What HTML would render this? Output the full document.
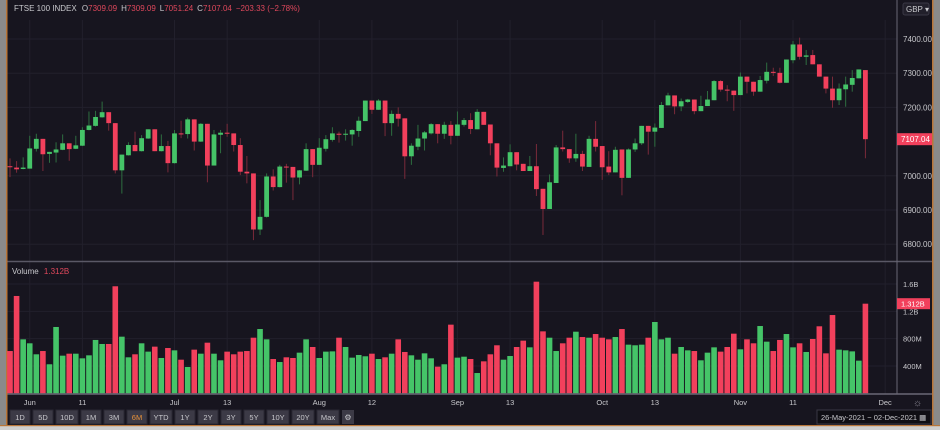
<!DOCTYPE html>
<html><head><meta charset="utf-8"><style>
html,body{margin:0;padding:0;background:#17151f;}
svg{display:block;font-family:"Liberation Sans",sans-serif;}
</style></head><body>
<svg id="chart" width="940" height="430" viewBox="0 0 940 430" xmlns="http://www.w3.org/2000/svg">
<rect x="0" y="0" width="940" height="430" fill="#17151f"/>
<rect x="0" y="0" width="6" height="425" fill="#8a8a8a"/>
<rect x="6" y="0" width="1.5" height="425" fill="#b8763a"/>
<rect x="932" y="0" width="1.5" height="425" fill="#b8763a"/>
<rect x="933.5" y="0" width="6.5" height="425" fill="#8a8a8a"/>
<g id="grid"></g>
<g id="vol"></g>
<g id="candles"></g>
<line x1="7.5" y1="261.5" x2="932" y2="261.5" stroke="#5a5866" stroke-width="1.5"/>
<line x1="7.5" y1="394" x2="932" y2="394" stroke="#6a6876" stroke-width="1.5"/>
<line x1="897" y1="0" x2="897" y2="394" stroke="#6a6876" stroke-width="1"/>
<g id="axes"></g>
<text x="14" y="11" font-size="8" fill="#c8c8cc">FTSE 100 INDEX  <tspan dx="3">O</tspan><tspan fill="#e0485c">7309.09</tspan><tspan dx="4">H</tspan><tspan fill="#e0485c">7309.09</tspan><tspan dx="4">L</tspan><tspan fill="#e0485c">7051.24</tspan><tspan dx="4">C</tspan><tspan fill="#e0485c">7107.04</tspan><tspan dx="4" fill="#e0485c">−203.33 (−2.78%)</tspan></text>
<g><rect x="903" y="3" width="26" height="12" rx="2" fill="#22202b" stroke="#3a3844"/><text x="906" y="12" font-size="8" fill="#c8c8cc">GBP ▾</text></g>
<text x="12" y="274" font-size="8" fill="#c8c8cc">Volume <tspan fill="#e0485c" dx="3">1.312B</tspan></text>
<g id="toolbar"></g>
<g><rect x="817" y="410" width="114" height="14" fill="#0f0e14" stroke="#3a3844"/><text x="821" y="420" font-size="7.5" fill="#c8c8cc">26-May-2021 − 02-Dec-2021 ▦</text></g>
<rect x="0" y="425" width="940" height="5" fill="#cfcfcf"/>
<rect x="0" y="425" width="940" height="1.2" fill="#b8763a"/>
</svg>
<script>
const opens=[7028,7024,7020,7021,7079,7108,7064,7068,7076,7095,7079,7088,7134,7146,7171,7186,7154,7016,7060,7090,7072,7109,7136,7072,7087,7037,7124,7122,7165,7100,7152,7030,7120,7126,7124,7090,7012,7007,6843,6880,6998,6967,7027,7026,6995,7015,7078,7032,7079,7105,7123,7120,7121,7131,7160,7220,7193,7220,7154,7181,7168,7057,7085,7109,7124,7151,7123,7149,7117,7149,7163,7136,7187,7150,7095,7023,7028,7069,7035,7014,7028,6962,6903,6979,7083,7078,7051,7064,7026,7108,7087,7027,7010,7077,6994,7077,7095,7146,7129,7140,7206,7235,7203,7216,7223,7189,7204,7221,7277,7252,7249,7236,7290,7275,7246,7278,7304,7301,7272,7338,7384,7348,7353,7326,7290,7255,7221,7253,7266,7285,7309.09];
const highs=[7051,7043,7054,7117,7123,7108,7070,7098,7121,7095,7117,7142,7188,7190,7217,7186,7154,7062,7098,7129,7119,7136,7136,7121,7102,7134,7161,7170,7165,7154,7152,7134,7134,7152,7124,7110,7058,7007,6929,7007,7019,7032,7035,7026,7017,7095,7078,7110,7119,7142,7129,7136,7136,7173,7220,7220,7224,7220,7191,7200,7168,7095,7149,7131,7154,7151,7158,7160,7188,7169,7183,7195,7187,7150,7095,7054,7092,7069,7035,7058,7093,6962,7004,7090,7132,7078,7123,7073,7117,7160,7087,7072,7085,7077,7080,7109,7146,7146,7153,7216,7243,7235,7226,7225,7223,7234,7248,7280,7280,7265,7249,7302,7290,7275,7292,7331,7316,7316,7340,7394,7404,7368,7368,7326,7290,7290,7270,7290,7309,7311,7309.09];
const lows=[6996,7009,7019,7021,7071,7014,7038,7039,7075,7044,7078,7087,7133,7144,7170,7132,7007,6948,7059,7072,7071,7108,7072,7071,7010,7036,7110,7109,7074,7099,6981,7030,7066,7114,7071,7002,6978,6812,6827,6878,6957,6966,6980,6929,6975,7014,6996,7032,7071,7100,7097,7103,7088,7114,7160,7181,7193,7116,7117,7144,6991,7032,7075,7074,7121,7095,7108,7092,7117,7144,7122,7136,7149,7060,6998,7012,7028,7016,7014,7014,6941,6827,6903,6979,7071,7038,7041,7014,7026,7071,6988,7002,7010,6943,6994,7070,7090,7062,7085,7140,7206,7180,7189,7213,7180,7189,7204,7221,7246,7218,7190,7236,7241,7234,7246,7270,7292,7270,7272,7329,7340,7324,7326,7290,7241,7199,7207,7202,7246,7285,7051.24];
const closes=[7026,7019,7024,7080,7108,7063,7070,7077,7095,7078,7089,7134,7147,7172,7186,7154,7016,7062,7090,7072,7110,7136,7072,7087,7037,7124,7121,7165,7100,7152,7030,7121,7126,7123,7090,7012,7007,6843,6880,6998,6967,7027,7025,6995,7016,7078,7032,7082,7107,7124,7121,7123,7134,7161,7220,7193,7220,7154,7181,7167,7057,7088,7109,7127,7151,7123,7149,7117,7150,7163,7137,7187,7149,7095,7024,7030,7069,7033,7014,7028,6961,6903,6981,7083,7078,7051,7064,7027,7108,7085,7025,7010,7076,6994,7077,7095,7146,7129,7141,7207,7235,7203,7218,7223,7189,7204,7223,7277,7252,7249,7236,7290,7275,7246,7280,7304,7301,7272,7340,7384,7348,7352,7326,7290,7255,7221,7255,7267,7286,7311,7107.04];
const volumes=[619,1425,790,732,571,619,425,971,551,580,580,512,556,781,722,722,1567,829,527,571,732,610,683,517,663,629,492,385,639,580,741,580,483,610,571,610,619,814,941,790,502,458,527,517,595,790,678,517,610,614,814,678,522,561,542,580,502,527,580,790,605,556,492,585,512,390,425,1005,522,536,502,297,468,571,703,492,546,678,771,673,1634,907,814,619,732,814,902,824,814,868,814,790,824,941,712,703,712,814,1044,790,814,580,678,629,619,483,595,673,610,678,873,644,790,732,985,756,619,781,868,673,732,605,795,981,585,1146,639,629,614,478,1312];
const priceTicks=[7400,7300,7200,7000,6900,6800];
const volTicks=[400,800,1200,1600];
const volTickLabels=["400M","800M","1.2B","1.6B"];
const dateTickIdx=[3,11,25,33,47,55,68,76,90,98,111,119,133];
const dateTickLabels=["Jun","11","Jul","13","Aug","12","Sep","13","Oct","13","Nov","11","Dec"];
const rangeButtons=["1D","5D","10D","1M","3M","6M","YTD","1Y","2Y","3Y","5Y","10Y","20Y","Max"];

const NS="http://www.w3.org/2000/svg";
const xS=i=>10+i*6.58;
const yP=p=>39+(7400-p)*0.342;
const yV=v=>393.3-v*0.0683;
function mk(tag,attrs,parent){const e=document.createElementNS(NS,tag);for(const k in attrs)e.setAttribute(k,attrs[k]);parent.appendChild(e);return e;}
const grid=document.getElementById('grid'),vol=document.getElementById('vol'),cg=document.getElementById('candles'),ax=document.getElementById('axes'),tb=document.getElementById('toolbar');
const GREEN="#45c468",RED="#f2405c",GW="#2e6e40",RW="#7a2a3a";
priceTicks.forEach(p=>{
  const l=mk('line',{x1:7.5,x2:897,y1:yP(p),y2:yP(p),stroke:"#22202c","stroke-width":1},grid);
  
  
  const t=mk('text',{x:903,y:yP(p)+3,"font-size":8,fill:"#c8c8cc"},ax);
  t.textContent=p.toFixed(2);
  
  
});
volTicks.forEach((v,k)=>{
  const l=mk('line',{x1:7.5,x2:897,y1:yV(v),y2:yV(v),stroke:"#22202c","stroke-width":1},grid);
  
  
  const t=mk('text',{x:903,y:yV(v)+3,"font-size":7.5,fill:"#c8c8cc"},ax);
  t.textContent=volTickLabels[k];
  
  
});
dateTickIdx.forEach((i,k)=>{
  const l=mk('line',{x1:xS(i),x2:xS(i),y1:20,y2:394,stroke:"#22202c","stroke-width":1},grid);
  
  
  const t=mk('text',{x:xS(i),y:405,"font-size":7.5,fill:"#c8c8cc","text-anchor":"middle"},ax);
  t.textContent=dateTickLabels[k];
  
  
});
volumes.forEach((v,i)=>{
  const up=closes[i]>=opens[i];
  const r=mk('rect',{x:xS(i)-2.8,y:yV(v),width:5.6,height:393.3-yV(v),fill:up?GREEN:RED},vol);
  
  
});
opens.forEach((o,i)=>{
  const c=closes[i],up=c>=o,x=xS(i);
  const g=mk('g',{},cg);
  
  
  mk('line',{x1:x,x2:x,y1:yP(highs[i]),y2:yP(lows[i]),stroke:up?GW:RW,"stroke-width":1},g);
  const top=yP(Math.max(o,c)),bot=yP(Math.min(o,c));
  mk('rect',{x:x-2.4,y:top,width:4.8,height:Math.max(1,bot-top),fill:up?GREEN:RED},g);
});
const lp=closes[closes.length-1],yl=yP(lp);
const lpBox=mk('rect',{x:897,y:yl-6,width:35,height:12,fill:RED},ax);


const lpT=mk('text',{x:901,y:yl+3,"font-size":8,fill:"#fff"},ax);lpT.textContent=lp.toFixed(2);


const lv=volumes[volumes.length-1],yv=yV(lv);
const lvBox=mk('rect',{x:897,y:yv-5.5,width:33,height:11,fill:RED},ax);


const lvT=mk('text',{x:901,y:yv+3,"font-size":7.5,fill:"#fff"},ax);lvT.textContent=(lv/1000).toFixed(3)+"B";


const gear=mk('text',{x:913,y:406,"font-size":10,fill:"#8a8894"},ax);gear.textContent="☼";


let bx=10;
rangeButtons.forEach(b=>{
  const w=b.length>2?22:20;
  const g=mk('g',{},tb);
  
  
  mk('rect',{x:bx,y:410,width:w,height:14,fill:"#3c3a46",stroke:"#2a2833"},g);
  const t=mk('text',{x:bx+w/2,y:420,"font-size":7.5,fill:b==="6M"?"#e8923a":"#c8c8cc","text-anchor":"middle"},g);
  t.textContent=b;
  bx+=w+3;
});
const gb=mk('g',{},tb);


mk('rect',{x:bx,y:410,width:12,height:14,fill:"#3c3a46"},gb);
const gt=mk('text',{x:bx+6,y:420,"font-size":8,fill:"#c8c8cc","text-anchor":"middle"},gb);gt.textContent="⚙";
</script>
</body></html>
